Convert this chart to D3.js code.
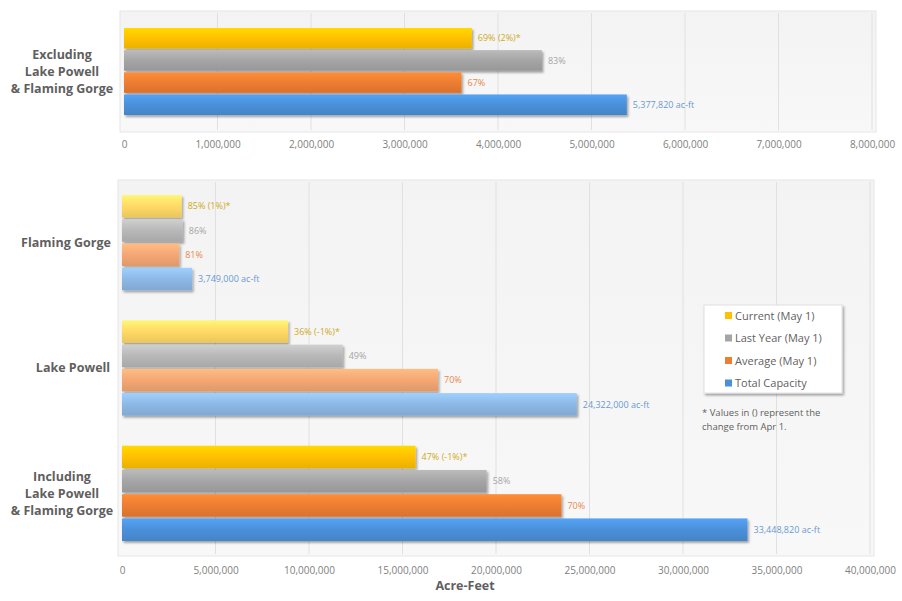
<!DOCTYPE html>
<html><head><meta charset="utf-8">
<script src="https://cdn.jsdelivr.net/npm/d3@7"></script>
<style>body{margin:0;background:#fff;}svg{display:block;font-family:"Open Sans","Noto Sans",sans-serif;}</style>
</head><body>
<svg id="c" width="902" height="601"></svg>
<script>
const series = ["Current (May 1)", "Last Year (May 1)", "Average (May 1)", "Total Capacity"];
const topGroups = ["Excluding\nLake Powell\n& Flaming Gorge"];
const topValues = {
  "Current (May 1)": [3720000],
  "Last Year (May 1)": [4470000],
  "Average (May 1)": [3610000],
  "Total Capacity": [5377820]
};
const topLabels = {
  "Current (May 1)": ["69% (2%)*"],
  "Last Year (May 1)": ["83%"],
  "Average (May 1)": ["67%"],
  "Total Capacity": ["5,377,820 ac-ft"]
};
const bottomGroups = ["Flaming Gorge", "Lake Powell", "Including\nLake Powell\n& Flaming Gorge"];
const bottomValues = {
  "Current (May 1)": [3190000, 8880000, 15700000],
  "Last Year (May 1)": [3250000, 11800000, 19500000],
  "Average (May 1)": [3060000, 16900000, 23500000],
  "Total Capacity": [3749000, 24322000, 33448820]
};
const bottomLabels = {
  "Current (May 1)": ["85% (1%)*", "36% (-1%)*", "47% (-1%)*"],
  "Last Year (May 1)": ["86%", "49%", "58%"],
  "Average (May 1)": ["81%", "70%", "70%"],
  "Total Capacity": ["3,749,000 ac-ft", "24,322,000 ac-ft", "33,448,820 ac-ft"]
};
const topTicks = [0,1e6,2e6,3e6,4e6,5e6,6e6,7e6,8e6];
const bottomTicks = [0,5e6,1e7,1.5e7,2e7,2.5e7,3e7,3.5e7,4e7];
const axisTitle = "Acre-Feet";
const noteLines = ["* Values in () represent the", "change from Apr 1."];

const colors = {"Current (May 1)":"#FFC000","Last Year (May 1)":"#A5A5A5","Average (May 1)":"#ED7D31","Total Capacity":"#4A90D9"};
const lightColors = {"Current (May 1)":"#FFD966","Last Year (May 1)":"#B8B8B8","Average (May 1)":"#F4A774","Total Capacity":"#8DB8E6"};
const labelColors = {"Current (May 1)":"#D0AA20","Last Year (May 1)":"#a5a5a5","Average (May 1)":"#E8884A","Total Capacity":"#6A9AD0"};

const svg = d3.select("#c");
const defs = svg.append("defs");
const sh = defs.append("filter").attr("id","shadow").attr("x","-5%").attr("y","-20%").attr("width","115%").attr("height","160%");
sh.append("feDropShadow").attr("dx",1.5).attr("dy",2).attr("stdDeviation",1.2).attr("flood-color","#000").attr("flood-opacity",0.35);
const pg = defs.append("linearGradient").attr("id","panel").attr("x1",0).attr("y1",0).attr("x2",0).attr("y2",1);
pg.append("stop").attr("offset","0%").attr("stop-color","#f3f3f3");
pg.append("stop").attr("offset","100%").attr("stop-color","#f8f8f8");
function barGrad(id, c){
  const g = defs.append("linearGradient").attr("id",id).attr("x1",0).attr("y1",0).attr("x2",0).attr("y2",1);
  g.append("stop").attr("offset","0%").attr("stop-color",d3.color(c).brighter(0.35));
  g.append("stop").attr("offset","50%").attr("stop-color",c);
  g.append("stop").attr("offset","100%").attr("stop-color",d3.color(c).darker(0.25));
}
series.forEach((s,i)=>{barGrad("g"+i, colors[s]); barGrad("l"+i, lightColors[s]);});

function drawChart(cfg){
  const x = d3.scaleLinear().domain(cfg.domain).range(cfg.xr);
  const gy = d3.scaleBand().domain(cfg.groups).range(cfg.yr).paddingInner(cfg.gpad).paddingOuter(cfg.gpad/2);
  const sy = d3.scaleBand().domain(series).range([0, gy.bandwidth()]).paddingInner(0.07);
  const g = svg.append("g");
  g.append("rect").attr("x",cfg.xr[0]-4).attr("y",cfg.yr[0]).attr("width",cfg.xr[1]-cfg.xr[0]+8).attr("height",cfg.yr[1]-cfg.yr[0])
    .attr("fill","url(#panel)").attr("stroke","#e6e6e6");
  g.selectAll("line.grid").data(cfg.ticks.slice(1)).join("line").attr("class","grid")
    .attr("x1",d=>x(d)).attr("x2",d=>x(d)).attr("y1",cfg.yr[0]+2).attr("y2",cfg.yr[1]-2)
    .attr("stroke","#e0e0e0").attr("stroke-width",1);
  cfg.groups.forEach((grp,gi)=>{
    const light = cfg.light[gi];
    series.forEach((s,si)=>{
      const v = cfg.values[s][gi];
      const y0 = gy(grp)+sy(s);
      g.append("rect").attr("x",x(0)).attr("y",y0).attr("width",x(v)-x(0)).attr("height",sy.bandwidth())
        .attr("fill",`url(#${light?"l":"g"}${si})`).attr("filter","url(#shadow)");
      g.append("text").attr("x",x(v)+6).attr("y",y0+sy.bandwidth()/2).attr("dy","0.35em")
        .attr("font-size",9).attr("fill",labelColors[s]).text(cfg.labels[s][gi]);
    });
    const lines = grp.split("\n");
    const cy = gy(grp)+gy.bandwidth()/2;
    const lh = 17;
    const t = g.append("text").attr("font-size",12.5).attr("font-weight","bold").attr("fill","#5f5f5f")
      .attr("text-anchor","middle");
    const lx = lines.length>1 ? 62 : (grp==="Lake Powell"?73:66);
    lines.forEach((ln,li)=>{
      t.append("tspan").attr("x",lx).attr("y",cy+(li-(lines.length-1)/2)*lh).attr("dy","0.35em").text(ln);
    });
  });
  const ax = d3.axisBottom(x).tickValues(cfg.ticks).tickFormat(d3.format(",")).tickSize(0).tickPadding(0);
  const axg = g.append("g").attr("transform",`translate(0,${cfg.axisY})`).call(ax);
  axg.select(".domain").remove();
  axg.selectAll("text").attr("font-size",10).attr("fill","#808080").attr("font-family","\"Open Sans\",sans-serif");
  return {x, gy};
}

drawChart({domain:[0,8e6], xr:[124,872], yr:[11,132], groups:topGroups, values:topValues, labels:topLabels,
  ticks:topTicks, gpad:0.28, axisY:141, light:[false]});
drawChart({domain:[0,4e7], xr:[122,870], yr:[180,556], groups:bottomGroups, values:bottomValues, labels:bottomLabels,
  ticks:bottomTicks, gpad:0.24, axisY:567, light:[true,true,false]});

svg.append("text").attr("x",465).attr("y",590).attr("text-anchor","middle").attr("font-size",12.5)
  .attr("font-weight","bold").attr("fill","#5f5f5f").text(axisTitle);

// legend
const lg = svg.append("g");
lg.append("rect").attr("x",704).attr("y",305).attr("width",138).attr("height",88).attr("fill","#fff")
  .attr("stroke","#e0e0e0").attr("filter","url(#shadow)");
series.forEach((s,i)=>{
  const yy = 316 + i*22.5;
  lg.append("rect").attr("x",725).attr("y",yy-4).attr("width",7).attr("height",7).attr("fill",colors[s]);
  lg.append("text").attr("x",735).attr("y",yy).attr("dy","0.35em").attr("font-size",11).attr("fill","#5f5f5f").text(s);
});
noteLines.forEach((ln,i)=>{
  svg.append("text").attr("x",702).attr("y",413+i*14).attr("dy","0.35em").attr("font-size",9.5).attr("fill","#5f5f5f").text(ln);
});
</script>
</body></html>
